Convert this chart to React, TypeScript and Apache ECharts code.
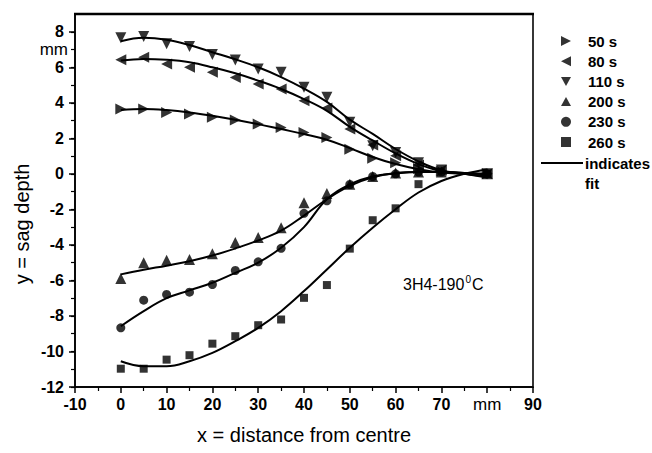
import React, { useEffect, useRef } from "react";
import * as echarts from "echarts";

// measured x positions (mm from centre)
const X_POINTS = [0, 5, 10, 15, 20, 25, 30, 35, 40, 45, 50, 55, 60, 65, 70, 80];

// measured sag depth (mm)
const S50 = [3.65, 3.65, 3.46, 3.37, 3.18, 3.03, 2.8, 2.61, 2.33, 2.05, 1.39, 0.88, 0.62, 0.3, 0.15, 0];
const S80 = [6.42, 6.56, 6.19, 6.0, 5.72, 5.43, 5.06, 4.78, 4.12, 3.71, 2.52, 1.62, 1.02, 0.5, 0.2, 0];
const S110 = [7.66, 7.73, 7.32, 7.17, 6.72, 6.41, 5.9, 5.72, 4.87, 4.31, 2.9, 1.58, 1.2, 0.62, 0.22, 0];
const S200 = [-5.89, -5.0, -4.87, -4.82, -4.5, -3.87, -3.59, -3.03, -1.62, -1.11, -0.58, -0.15, 0.05, 0.1, 0.1, 0];
const S230 = [-8.67, -7.11, -6.79, -6.66, -6.23, -5.44, -4.95, -4.19, -2.22, -1.52, -0.6, -0.15, 0.0, 0.1, 0.1, 0];
const S260 = [-10.97, -10.97, -10.46, -10.21, -9.56, -9.14, -8.52, -8.2, -6.98, -6.26, -4.21, -2.61, -1.94, -0.58, null, 0];

// fitted curves
const FIT_X = [0, 5, 10, 15, 20, 25, 30, 35, 40, 45, 50, 55, 60, 65, 70, 75, 80];
const FIT50 = [3.59, 3.65, 3.59, 3.46, 3.27, 3.05, 2.8, 2.52, 2.24, 1.92, 1.45, 0.95, 0.55, 0.26, 0.07, 0, -0.05];
const FIT80 = [6.38, 6.47, 6.42, 6.28, 6.0, 5.66, 5.25, 4.78, 4.21, 3.55, 2.65, 1.88, 1.15, 0.55, 0.15, 0, -0.15];
const FIT110 = [7.47, 7.66, 7.55, 7.25, 6.85, 6.45, 6.0, 5.45, 4.8, 4.05, 3.05, 2.25, 1.4, 0.7, 0.2, 0, -0.2];
const FIT200 = [-5.66, -5.4, -5.17, -4.92, -4.6, -4.2, -3.75, -3.2, -2.35, -1.43, -0.68, -0.2, 0.05, 0.11, 0.1, 0.05, -0.05];
const FIT230 = [-8.58, -7.73, -7.0, -6.56, -6.13, -5.57, -5.0, -4.16, -3.0, -1.43, -0.6, -0.15, 0.02, 0.1, 0.1, 0.05, 0];
const FIT260 = [-10.55, -10.83, -10.83, -10.55, -10.08, -9.42, -8.67, -7.73, -6.6, -5.38, -4.16, -3.03, -1.99, -1.05, -0.4, 0, 0.25];

const NAMES = ["50 s", "80 s", "110 s", "200 s", "230 s", "260 s"];
const VALUES = [S50, S80, S110, S200, S230, S260];
const FITS = [FIT50, FIT80, FIT110, FIT200, FIT230, FIT260];

const X_TICK_MM = 80;
const Y_TICK_MM = 7;

const SYMBOLS = [
  "path://M0,0L10,5L0,10Z",
  "path://M10,0L0,5L10,10Z",
  "path://M0,0L10,0L5,9Z",
  "path://M5,0L10,9L0,9Z",
  "circle",
  "rect",
];
const SIZES = [11, 11, 11, 11, 9, 8];

const FONT = "'Liberation Sans', Arial, Helvetica, sans-serif";

export default function App() {
  const ref = useRef<HTMLDivElement>(null);

  useEffect(() => {
    if (!ref.current) return;
    const chart = echarts.init(ref.current, undefined, { renderer: "svg" });

    const scatterSeries = NAMES.map((name, k) => ({
      name,
      type: "scatter",
      xAxisIndex: 0,
      yAxisIndex: 1,
      symbol: SYMBOLS[k],
      symbolSize: SIZES[k],
      itemStyle: { color: "#000" },
      data: X_POINTS.map((x, i) => [x, VALUES[k][i]]).filter((d) => d[1] !== null),
      z: 3,
    }));

    const fitSeries = NAMES.map((name, k) => ({
      name: name + " fit",
      type: "line",
      xAxisIndex: 0,
      yAxisIndex: 1,
      smooth: 0.4,
      showSymbol: false,
      silent: true,
      lineStyle: { color: "#000", width: 2 },
      data: FIT_X.map((x, i) => [x, FITS[k][i]]),
      z: 2,
    }));

    chart.setOption({
      animation: false,
      backgroundColor: "#fff",
      textStyle: { fontFamily: FONT },
      grid: {
        left: 75,
        top: 14,
        width: 458,
        height: 373,
        show: true,
        borderColor: "#222",
        borderWidth: 1.8,
        backgroundColor: "transparent",
      },
      xAxis: [
        {
          type: "value",
          position: "bottom",
          min: -10,
          max: 90,
          interval: 10,
          axisLine: { show: true, onZero: false, lineStyle: { color: "#000", width: 1.6 } },
          axisTick: { show: true, length: 6, lineStyle: { color: "#000", width: 1.5 } },
          minorTick: { show: true, splitNumber: 2, length: 4, lineStyle: { color: "#000", width: 1.2 } },
          splitLine: { show: false },
          axisLabel: {
            margin: 9,
            color: "#000",
            fontSize: 16,
            fontWeight: "bold",
            fontFamily: FONT,
            formatter: (v: number) => (v === X_TICK_MM ? "{u|mm}" : String(v)),
            rich: { u: { fontSize: 17, fontWeight: "normal", fontFamily: FONT, color: "#000" } },
          },
          name: "x = distance from centre",
          nameLocation: "middle",
          nameGap: 38,
          nameTextStyle: { fontSize: 20, color: "#000", fontFamily: FONT },
        },
      ],
      yAxis: [
        {
          type: "value",
          position: "left",
          min: -12,
          max: 9,
          interval: 1,
          axisLine: { show: false, onZero: false },
          axisTick: { show: true, length: 4, lineStyle: { color: "#000", width: 1.2 } },
          splitLine: { show: false },
          axisLabel: {
            margin: 7,
            color: "#000",
            fontSize: 17,
            fontFamily: FONT,
            showMaxLabel: false,
            formatter: (v: number) => (v === Y_TICK_MM ? "mm" : ""),
          },
        },
        {
          type: "value",
          position: "left",
          min: -12,
          max: 9,
          interval: 2,
          axisLine: { show: true, onZero: false, lineStyle: { color: "#000", width: 1.6 } },
          axisTick: { show: true, length: 6, lineStyle: { color: "#000", width: 1.5 } },
          splitLine: { show: false },
          axisLabel: {
            margin: 11,
            color: "#000",
            fontSize: 16,
            fontWeight: "bold",
            fontFamily: FONT,
            showMaxLabel: false,
            formatter: (v: number) => (v % 2 === 0 ? String(v) : ""),
          },
        },
      ],
      legend: {
        orient: "vertical",
        left: 556,
        top: 28,
        itemWidth: 10,
        itemHeight: 10,
        itemGap: 4.2,
        selectedMode: false,
        textStyle: {
          fontSize: 15,
          fontWeight: "bold",
          color: "#000",
          fontFamily: FONT,
          lineHeight: 16,
          padding: [0, 0, 0, 12],
        },
        data: NAMES.map((name, k) => ({
          name,
          icon: SYMBOLS[k],
          itemStyle: { color: "#000" },
        })),
      },
      graphic: [
        {
          type: "rect",
          shape: { x: 74, y: 12.8, width: 460, height: 2.4 },
          style: { fill: "#000" },
          z: 10,
        },
        {
          type: "line",
          shape: { x1: 541, y1: 163, x2: 583, y2: 163 },
          style: { stroke: "#000", lineWidth: 2 },
        },
        {
          type: "text",
          x: 585,
          y: 163,
          style: {
            text: "indicates",
            font: `bold 15px ${FONT}`,
            fill: "#000",
            verticalAlign: "middle",
            align: "left",
          },
        },
        {
          type: "text",
          x: 585,
          y: 183,
          style: {
            text: "fit",
            font: `bold 15px ${FONT}`,
            fill: "#000",
            verticalAlign: "middle",
            align: "left",
          },
        },
        {
          type: "text",
          x: 403,
          y: 283,
          style: {
            text: "{n|3H4-190}{s|0}{n|C}",
            fill: "#000",
            verticalAlign: "middle",
            align: "left",
            rich: {
              n: { fontSize: 16, fontFamily: FONT, fill: "#000", lineHeight: 18, verticalAlign: "bottom" },
              s: { fontSize: 10, fontFamily: FONT, fill: "#000", lineHeight: 18, verticalAlign: "top", padding: [0, 1, 0, 1] },
            },
          },
        },
        {
          type: "text",
          x: 22,
          y: 224,
          rotation: Math.PI / 2,
          style: {
            text: "y = sag depth",
            font: `20px ${FONT}`,
            fill: "#000",
            verticalAlign: "middle",
            align: "center",
          },
        },
      ],
      series: [...fitSeries, ...scatterSeries],
    });

    return () => chart.dispose();
  }, []);

  return (
    <div
      ref={ref}
      style={{ position: "fixed", left: 0, top: 0, width: 652, height: 453, background: "#fff" }}
    />
  );
}
